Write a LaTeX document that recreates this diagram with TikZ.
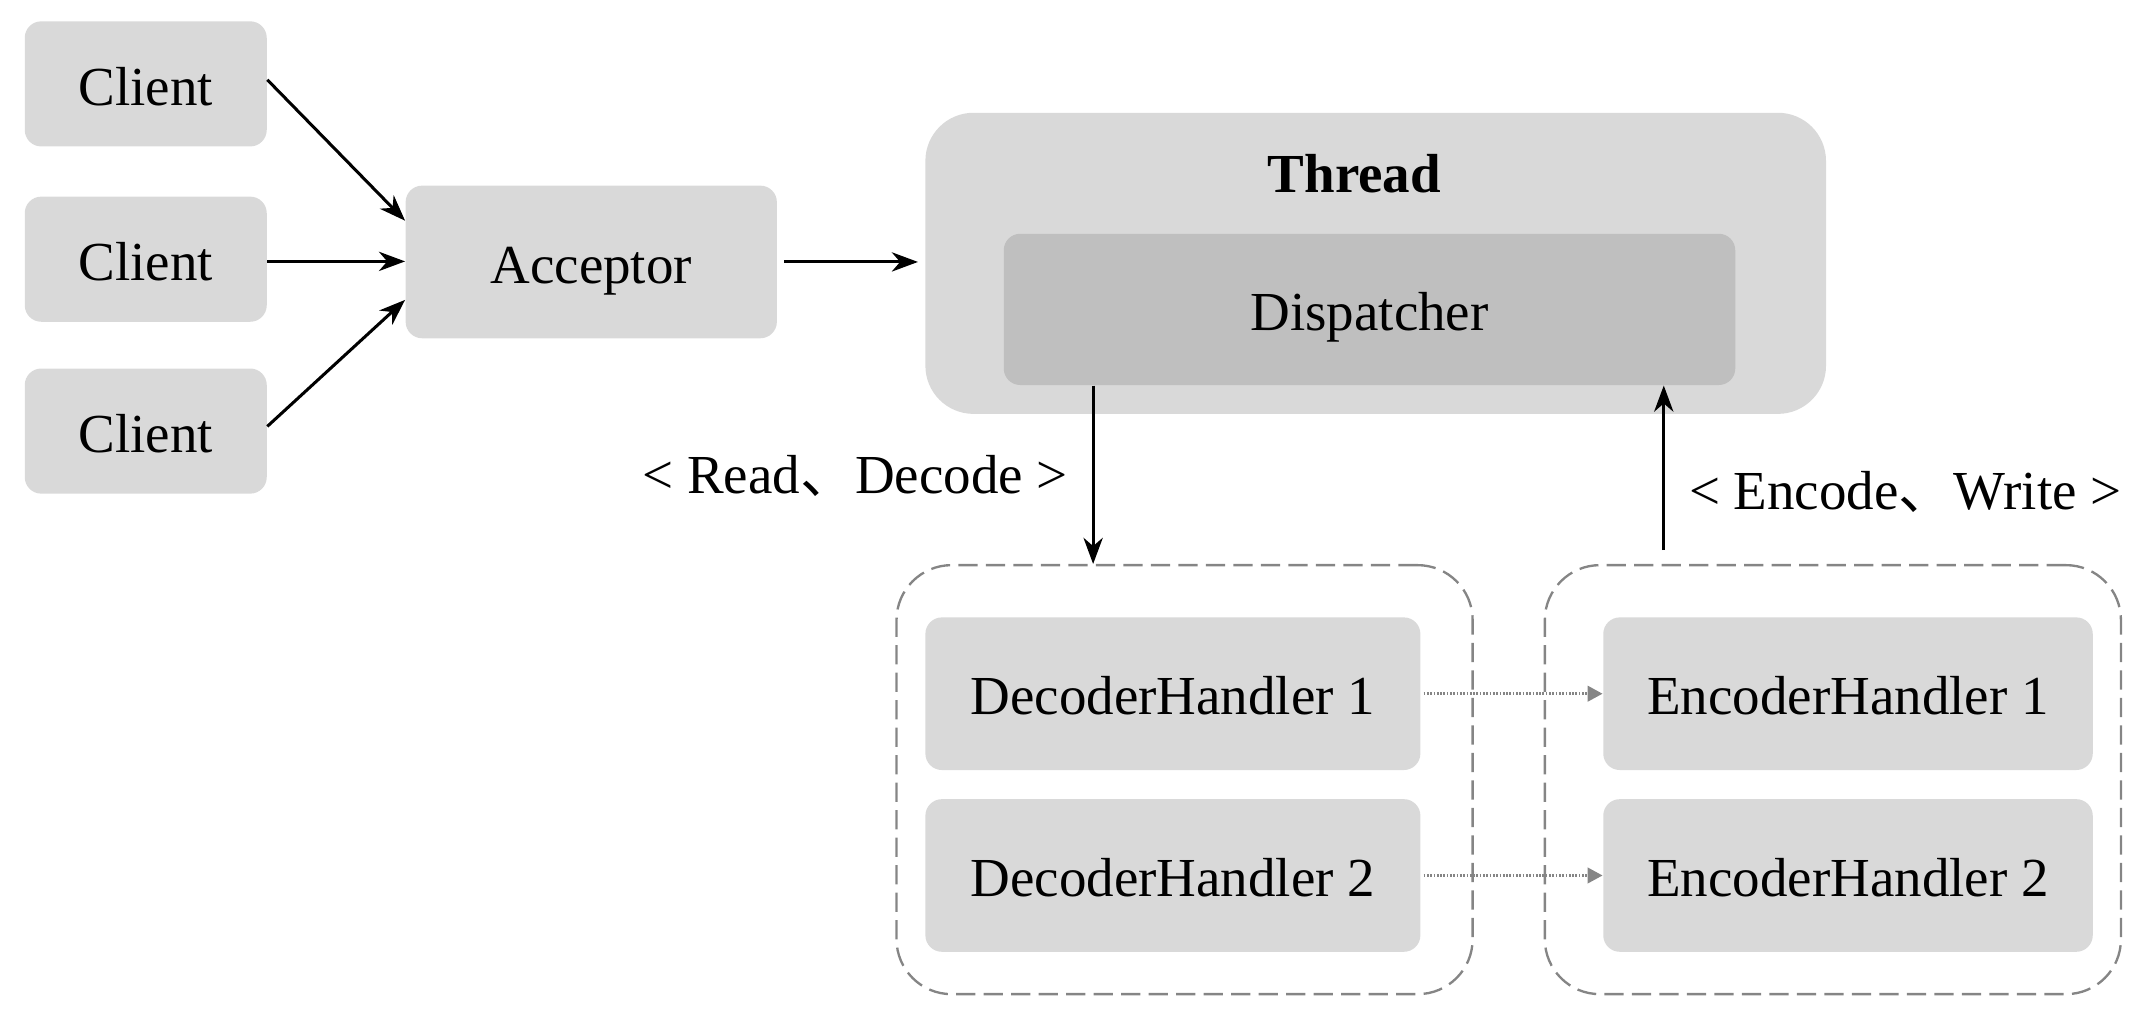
\documentclass[tikz,border=0pt]{standalone}
\usepackage{fontspec}
\setmainfont{Liberation Serif}
\newfontfamily\cjk{Noto Sans CJK SC}
\usetikzlibrary{arrows.meta,calc}
\definecolor{boxgray}{HTML}{D9D9D9}
\definecolor{dispgray}{HTML}{BFBFBF}
\definecolor{dashgray}{HTML}{858585}
\begin{document}
\begin{tikzpicture}[x=0.5pt,y=-0.5pt,
  font=\fontsize{20pt}{24pt}\selectfont,
  gbox/.style={rectangle, fill=boxgray, rounded corners=6pt, inner sep=0pt, text height=17pt, text depth=1.6pt},
  dbox/.style={rectangle, draw=dashgray, line width=0.85pt, dash pattern=on 7pt off 3pt, rounded corners=20pt, inner sep=0pt, minimum width=209.5pt, minimum height=156pt},
  arr/.style={-{Stealth[length=9.5pt,width=7pt,inset=3pt]}, line width=1.1pt, black},
  darr/.style={-{Triangle[length=5.5pt,width=5.5pt]}, line width=1.3pt, dashgray, dash pattern=on 0.6pt off 0.6pt}
]
\useasboundingbox (0,0) rectangle (1568,746);
% clients
\node[gbox, minimum width=88pt, minimum height=45.5pt] (c1) at (106,61) {Client};
\node[gbox, minimum width=88pt, minimum height=45.5pt] (c2) at (106,188.5) {Client};
\node[gbox, minimum width=88pt, minimum height=45.5pt] (c3) at (106,313.5) {Client};
% acceptor
\node[gbox, minimum width=135pt, minimum height=55.5pt] (acc) at (430,190.5) {Acceptor};
% thread
\node[rectangle, fill=boxgray, inner sep=0pt, rounded corners=17.5pt, minimum width=327.5pt, minimum height=109.5pt] (thr) at (1000.5,191.5) {};
\node[font=\fontsize{20pt}{24pt}\selectfont\bfseries] (thrlbl) at (985,126) {Thread};
\node[gbox, fill=dispgray, minimum width=266pt, minimum height=55pt] (disp) at (996,225) {Dispatcher};
% dashed groups
\node[dbox] (dl) at (861.5,567) {};
\node[dbox] (dr) at (1333,567) {};
% handlers
\node[gbox, minimum width=180pt, minimum height=55.5pt] (d1) at (853,504.5) {DecoderHandler 1};
\node[gbox, minimum width=180pt, minimum height=55.5pt] (d2) at (853,636.7) {DecoderHandler 2};
\node[gbox, minimum width=178pt, minimum height=55.5pt] (e1) at (1344,504.5) {EncoderHandler 1};
\node[gbox, minimum width=178pt, minimum height=55.5pt] (e2) at (1344,636.7) {EncoderHandler 2};
% arrows from clients
\draw[arr] ([yshift=1.5pt]c1.east) -- ([yshift=15pt]acc.west);
\draw[arr] ([yshift=-0.8pt]c2.east) -- ([yshift=0.2pt]acc.west);
\draw[arr] ([yshift=1.7pt]c3.east) -- ([yshift=-13.8pt]acc.west);
\draw[arr, shorten <=2.5pt, shorten >=2.5pt] (acc.east) -- (acc.east -| thr.west);
% dispatcher <-> groups
\draw[arr] ([xshift=-100.5pt]disp.south) -- ([xshift=-100.5pt]disp.south |- dl.north);
\draw[arr, shorten <=5pt] ([xshift=107pt]disp.south |- dr.north) -- ([xshift=107pt]disp.south);
\node[anchor=east, inner sep=0pt] (lblr) at (777,346) {< Read{\cjk 、}Decode >};
\node[anchor=west, inner sep=0pt] (lblw) at (1228,358) {< Encode{\cjk 、}Write >};
% dotted arrows
\draw[darr, shorten <=1pt] (d1.east) -- (e1.west);
\draw[darr, shorten <=1pt] (d2.east) -- (e2.west);
\end{tikzpicture}
\end{document}
